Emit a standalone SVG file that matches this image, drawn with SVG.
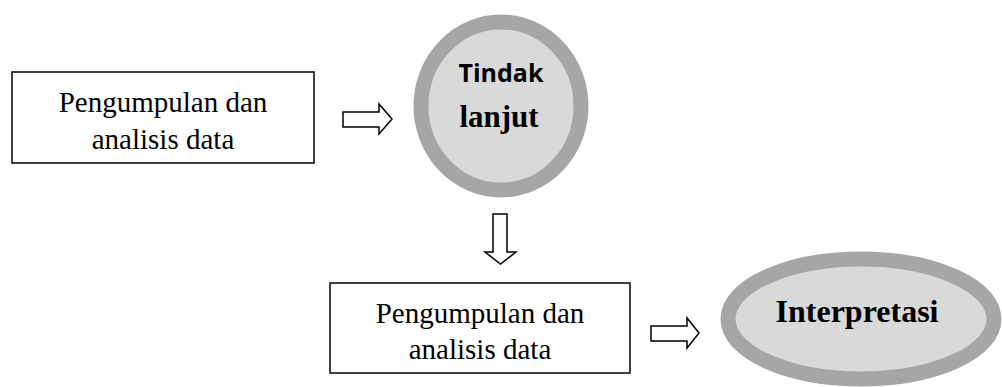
<svg xmlns="http://www.w3.org/2000/svg" width="1002" height="387" viewBox="0 0 1002 387">
<style>
.box{fill:#fff;stroke:#000;stroke-width:1.5}
.ring{fill:#d9d9d9;stroke:#a6a6a6;stroke-width:15}
.arr{fill:#fff;stroke:#000;stroke-width:1.5;stroke-linejoin:miter}
.t{font-family:"Liberation Serif","Times New Roman",serif;font-size:29px;fill:#000;text-anchor:middle}
.tb{font-family:"Liberation Serif","Times New Roman",serif;font-weight:bold;fill:#000;text-anchor:middle}
.sb{font-family:"Open Sans","Liberation Sans",sans-serif;font-weight:bold;fill:#000;text-anchor:middle}
</style>
<rect width="1002" height="387" fill="#fff"/>
<g id="box1">
<rect class="box" x="12" y="72" width="302" height="91"/>
<text class="t" x="163" y="112">Pengumpulan dan</text>
<text class="t" x="163" y="149">analisis data</text>
</g>
<g id="tindak">
<ellipse class="ring" cx="501" cy="106" rx="80" ry="84"/>
<text class="sb" x="501" y="82" font-size="25">Tindak</text>
<text class="tb" x="499" y="127" font-size="31">lanjut</text>
</g>
<g id="box2">
<rect class="box" x="330" y="283" width="300" height="90"/>
<text class="t" x="480" y="323">Pengumpulan dan</text>
<text class="t" x="480" y="359">analisis data</text>
</g>
<g id="interpretasi">
<ellipse class="ring" cx="861" cy="319" rx="133" ry="60"/>
<text class="tb" x="857" y="322" font-size="32">Interpretasi</text>
</g>
<g id="connectors">
<path class="arr" d="M343,112 H379 V104 L392,119 L379,134 V127 H343 Z"/>
<path class="arr" d="M493,214 H507 V252 H516 L500.5,264 L485,252 H493 Z"/>
<path class="arr" d="M651,326 H687 V318 L699,333 L687,348 V341 H651 Z"/>
</g>
</svg>
